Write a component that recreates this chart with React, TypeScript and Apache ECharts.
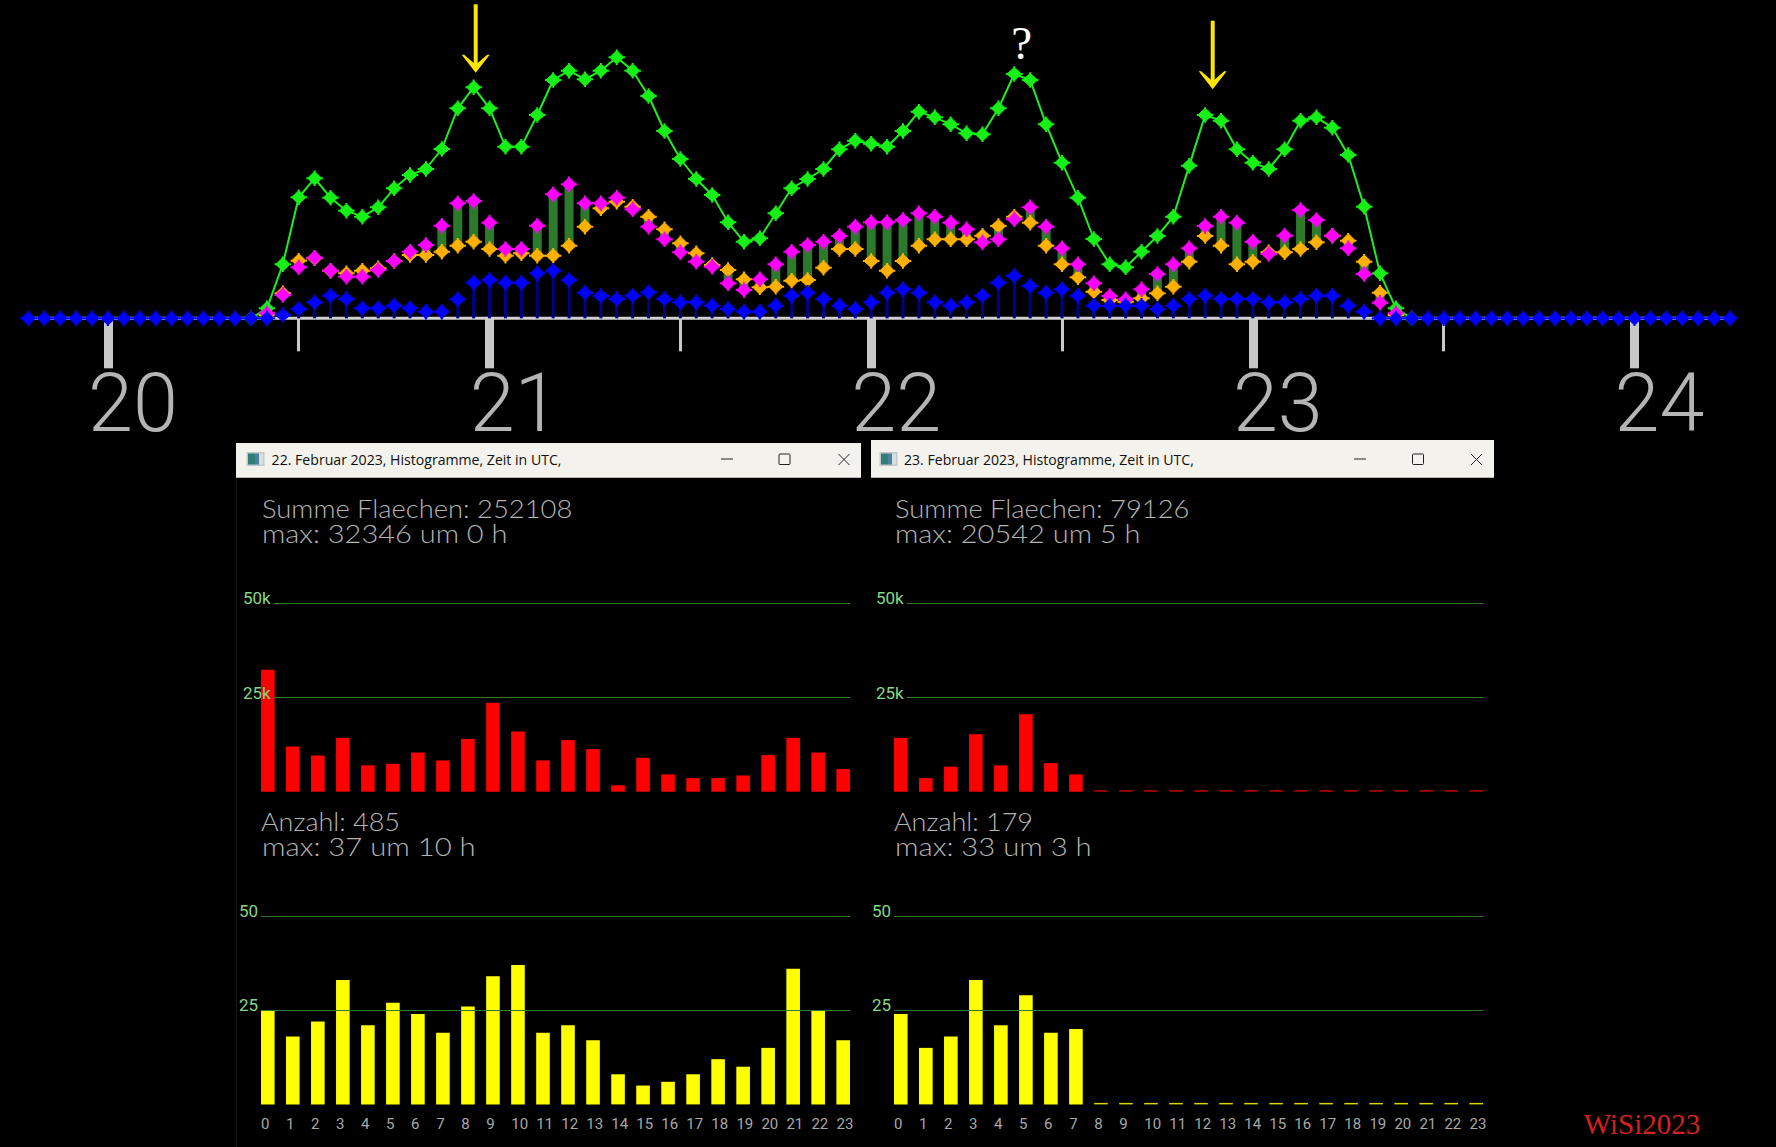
import React, { useEffect, useRef } from "react";
import * as echarts from "echarts";

// --- top strip: hourly heights, hour 0 = 20 Feb 00 UTC ---
const dayTicks = [0, 24, 48, 72, 96];
const dayLabels = ["20", "21", "22", "23", "24"];
const firstHour = -5;
const greenFirst = 9;
const green = [0,30,162,363,420,362,323,305,333,390,430,448,508,630,693,630,515,515,610,715,743,717,743,783,743,667,562,478,418,370,288,230,240,315,390,418,448,507,533,524,515,562,620,603,582,555,552,630,733,715,582,467,362,238,162,153,200,247,305,458,610,593,507,467,448,507,593,603,572,490,335,135,30,0];
const pairFirst = 10;
const magenta = [15,70,153,182,143,125,125,145,172,200,220,278,345,352,287,208,208,278,372,402,345,345,362,327,275,237,198,170,155,105,85,117,162,200,220,230,247,275,288,288,295,315,305,287,267,228,237,297,333,275,210,162,105,67,57,87,133,162,210,277,305,287,230,193,248,325,295,248,210,133,47,15];
const orange = [10,75,173,180,143,135,143,150,172,190,190,200,218,230,208,188,195,188,188,218,275,330,350,335,305,267,225,195,160,145,117,93,95,113,115,152,208,208,172,143,172,218,237,237,237,248,277,305,287,218,162,123,80,55,50,60,75,95,170,247,218,162,170,198,198,208,228,248,233,170,77,10];
const blue = [0,0,0,0,0,0,0,0,0,0,0,0,0,0,0,0,10,28,48,68,58,30,30,38,30,20,20,57,107,115,107,107,135,143,115,77,67,58,68,78,58,48,48,38,28,20,20,38,68,77,58,38,28,48,77,87,77,48,38,48,68,107,127,97,77,87,68,38,38,38,38,28,38,58,68,58,58,58,48,48,58,68,68,38,20,0,0,0,0,0,0,0,0,0,0,0,0,0,0,0,0,0,0,0,0,0,0,0];

// --- histograms ---
const hourLabels = ["0","1","2","3","4","5","6","7","8","9","10","11","12","13","14","15","16","17","18","19","20","21","22","23"];
const areaFeb22 = [32346,12000,9600,14300,7000,7400,10400,8300,14000,23600,16000,8300,13700,11300,1700,9000,4600,3600,3600,4300,9700,14300,10400,6000];
const countFeb22 = [25,18,22,33,21,27,24,19,26,34,37,19,21,17,8,5,6,8,12,10,15,36,25,17];
const areaFeb23 = [14300,3600,6650,15250,7000,20542,7600,4600,400,400,400,400,400,400,400,400,400,400,400,400,400,400,400,400];
const countFeb23 = [24,15,18,33,21,29,19,20,0.4,0.4,0.4,0.4,0.4,0.4,0.4,0.4,0.4,0.4,0.4,0.4,0.4,0.4,0.4,0.4];
const areaAxisLabels: Record<number, string> = { 25000: "25k", 50000: "50k" };
const countAxisLabels: Record<number, string> = { 25: "25", 50: "50" };

const titleFeb22 = "22. Februar 2023, Histogramme, Zeit in UTC,";
const titleFeb23 = "23. Februar 2023, Histogramme, Zeit in UTC,";
const areaTextFeb22 = ["Summe Flaechen: 252108", "max: 32346 um 0 h"];
const areaTextFeb23 = ["Summe Flaechen: 79126", "max: 20542 um 5 h"];
const countTextFeb22 = ["Anzahl: 485", "max: 37 um 10 h"];
const countTextFeb23 = ["Anzahl: 179", "max: 33 um 3 h"];

const DIAMOND = "path://M7,0H9V2H10V3H11V4H12V5H13V6H14V7H16V9H14V10H13V11H12V12H11V13H10V14H9V16H7V14H6V13H5V12H4V11H3V10H2V9H0V7H2V6H3V5H4V4H5V3H6V2H7Z";
const MARK_SIZE: [number, number] = [16.5, 15.5];
const HERSHEY = "300 25px Lato";

function series3(first: number, vals: number[]) {
  return vals.map((v, i) => [first + i, v]);
}

function buildOption() {
  const grid: any[] = [];
  const xAxis: any[] = [];
  const yAxis: any[] = [];
  const series: any[] = [];
  const graphic: any[] = [];

  // top strip
  const pxPerHour = 15.902;
  grid.push({ outerBoundsMode: "none", left: 107.9 - 24 * pxPerHour, top: 0, width: 144 * pxPerHour, height: 318.33 });
  xAxis.push({
    gridIndex: 0, type: "value", min: -24, max: 120, interval: 24, position: "bottom",
    axisLine: { show: false },
    axisTick: { show: true, length: 50, lineStyle: { color: "#c8c8c8", width: 9 } },
    minorTick: { show: true, splitNumber: 2, length: 33, lineStyle: { color: "#c8c8c8", width: 3 } },
    splitLine: { show: false },
    axisLabel: {
      show: true, margin: 52, color: "#b4b4b4", fontFamily: "Roboto", fontWeight: 300, fontSize: 81,
      lineHeight: 66, verticalAlign: "top", padding: [0, 0, 0, 50],
      formatter: (v: number) => { const i = dayTicks.indexOf(v); return i >= 0 ? dayLabels[i] : ""; },
    },
  });
  yAxis.push({ gridIndex: 0, type: "value", min: 0, max: 955, show: false });

  series.push({
    type: "line", xAxisIndex: 0, yAxisIndex: 0, z: 1, clip: false, symbol: "none", silent: true,
    lineStyle: { color: "#d0d0d0", width: 3 }, data: [[firstHour, 0], [firstHour + blue.length - 1, 0]],
  });
  series.push({
    type: "line", xAxisIndex: 0, yAxisIndex: 0, z: 3, clip: false, symbol: DIAMOND, symbolSize: MARK_SIZE,
    showAllSymbol: true, itemStyle: { color: "#16f016", opacity: 1 }, lineStyle: { color: "#1eee1e", width: 2 },
    data: series3(greenFirst, green),
  });
  series.push({
    type: "custom", xAxisIndex: 0, yAxisIndex: 0, z: 4, clip: false,
    encode: { x: 0, y: [1, 2] },
    data: magenta.map((m, i) => [pairFirst + i, m, orange[i]]),
    renderItem: (_p: any, api: any) => {
      const a = api.coord([api.value(0), api.value(1)]);
      const b = api.coord([api.value(0), api.value(2)]);
      return { type: "rect", shape: { x: a[0] - 4.5, y: Math.min(a[1], b[1]), width: 9, height: Math.abs(a[1] - b[1]) }, style: { fill: "#2b7b2b" } };
    },
  });
  series.push({
    type: "scatter", xAxisIndex: 0, yAxisIndex: 0, z: 5, clip: false, symbol: DIAMOND, symbolSize: MARK_SIZE,
    itemStyle: { color: "#ffb000", opacity: 1 }, data: series3(pairFirst, orange),
  });
  series.push({
    type: "scatter", xAxisIndex: 0, yAxisIndex: 0, z: 6, clip: false, symbol: DIAMOND, symbolSize: MARK_SIZE,
    itemStyle: { color: "#ff00ff", opacity: 1 }, data: series3(pairFirst, magenta),
  });
  series.push({
    type: "custom", xAxisIndex: 0, yAxisIndex: 0, z: 7, clip: false,
    encode: { x: 0, y: 1 },
    data: series3(firstHour, blue),
    renderItem: (_p: any, api: any) => {
      const a = api.coord([api.value(0), api.value(1)]);
      const b = api.coord([api.value(0), 0]);
      return { type: "line", shape: { x1: a[0], y1: a[1], x2: b[0], y2: b[1] }, style: { stroke: "#00008c", lineWidth: 3 } };
    },
  });
  series.push({
    type: "scatter", xAxisIndex: 0, yAxisIndex: 0, z: 8, clip: false, symbol: DIAMOND, symbolSize: MARK_SIZE,
    itemStyle: { color: "#0000ff", opacity: 1 }, data: series3(firstHour, blue),
  });

  // histograms
  const addBars = (dx: number, base: number, max: number, vals: number[], color: string, dim: string, threshold: number) => {
    const g = grid.length;
    grid.push({ outerBoundsMode: "none", left: 255.3 + dx, width: 600.4, top: base - 188.4, height: 188.4 });
    xAxis.push({ gridIndex: g, type: "category", data: hourLabels, show: false });
    yAxis.push({ gridIndex: g, type: "value", min: 0, max, show: false });
    series.push({
      type: "bar", xAxisIndex: g, yAxisIndex: g, barWidth: 13.6, z: 2,
      data: vals.map((v) => ({ value: v, itemStyle: { color: v <= threshold ? dim : color } })),
    });
  };
  const addGuide = (left: number, right: number, base: number, max: number, labels: Record<number, string>, hours: boolean) => {
    const g = grid.length;
    grid.push({ outerBoundsMode: "none", left, width: right - left, top: base - 188.4, height: 188.4 });
    xAxis.push({
      gridIndex: g, type: "value", min: 0, max: hours ? (right - left) / 25.02 : 1, interval: 1, show: hours,
      axisLine: { show: false }, axisTick: { show: false }, splitLine: { show: false },
      axisLabel: {
        show: hours, margin: 12, color: "#a8a8a8", fontFamily: "Roboto", fontSize: 15, align: "left",
        showMaxLabel: false, formatter: (v: number) => hourLabels[v] ?? "",
      },
    });
    yAxis.push({
      gridIndex: g, type: "value", min: 0, max, interval: max / 2, z: 5,
      axisLine: { show: false }, axisTick: { show: false },
      splitLine: { show: true, showMinLine: false, lineStyle: { color: "#357a2c", width: 1.2 } },
      axisLabel: {
        show: true, margin: 3, color: "#86d886", fontFamily: "Roboto", fontSize: 17, verticalAlign: "bottom", lineHeight: 10,
        formatter: (v: number) => labels[v] ?? "",
      },
    });
  };

  const panel = (dx: number, area: number[], count: number[], areaText: string[], countText: string[]) => {
    addBars(dx, 791.7, 50000, area, "#ff0000", "#c00000", 400);
    addBars(dx, 1104.4, 50, count, "#ffff00", "#d8d800", 0.4);
    addGuide(273.7 + dx, 850.4 + dx, 791.7, 50000, areaAxisLabels, false);
    addGuide(261 + dx, 850.4 + dx, 1104.4, 50, countAxisLabels, true);
    const text = (t: string, x: number, y: number, sx: number) =>
      graphic.push({ type: "text", x, y, scaleX: sx, z: 20, style: { text: t, fill: "#b4b4b4", font: HERSHEY, textAlign: "left", textVerticalAlign: "middle" } });
    text(areaText[0], 262 + dx, 508, 1.095);
    text(areaText[1], 262 + dx, 533, 1.16);
    text(countText[0], 261 + dx, 821, 1.08);
    text(countText[1], 262 + dx, 846, 1.17);
  };
  panel(0, areaFeb22, countFeb22, areaTextFeb22, countTextFeb22);
  panel(633, areaFeb23, countFeb23, areaTextFeb23, countTextFeb23);

  // window title bars
  const titleBar = (x0: number, x1: number, y0: number, icon: number, tx: number, title: string, minX: number, maxX: number, closeX: number) => {
    const ink = "#222222";
    graphic.push({ type: "rect", z: 15, shape: { x: x0, y: y0, width: x1 - x0, height: 477.7 - y0 }, style: { fill: "#f3f2ec" } });
    graphic.push({ type: "rect", z: 16, shape: { x: icon, y: 452, width: 18, height: 14 }, style: { fill: "#c4c8ca" } });
    graphic.push({ type: "rect", z: 17, shape: { x: icon + 1.5, y: 453.5, width: 7, height: 11 }, style: { fill: "#2f7f78" } });
    graphic.push({ type: "rect", z: 17, shape: { x: icon + 8.5, y: 453.5, width: 4, height: 11 }, style: { fill: "#4f7fa0" } });
    graphic.push({ type: "rect", z: 17, shape: { x: icon + 12.5, y: 453.5, width: 4, height: 11 }, style: { fill: "#d6e0dc" } });
    graphic.push({ type: "text", x: tx, y: 459, z: 17, style: { text: title, fill: "#111111", font: "14.1px 'Open Sans'", textAlign: "left", textVerticalAlign: "middle" } });
    graphic.push({ type: "line", z: 17, shape: { x1: minX, y1: 459, x2: minX + 12, y2: 459 }, style: { stroke: ink, lineWidth: 1 } });
    graphic.push({ type: "rect", z: 17, shape: { x: maxX, y: 454, width: 11, height: 10.5, r: 1 }, style: { fill: "transparent", stroke: ink, lineWidth: 1 } });
    graphic.push({ type: "line", z: 17, shape: { x1: closeX, y1: 454, x2: closeX + 11, y2: 465 }, style: { stroke: ink, lineWidth: 1 } });
    graphic.push({ type: "line", z: 17, shape: { x1: closeX + 11, y1: 454, x2: closeX, y2: 465 }, style: { stroke: ink, lineWidth: 1 } });
  };
  titleBar(236, 861, 443, 246.5, 271.6, titleFeb22, 721, 779, 838.5);
  titleBar(871, 1494, 440, 879.5, 904, titleFeb23, 1354, 1412.5, 1471);
  graphic.push({ type: "line", z: 1, shape: { x1: 236.5, y1: 478, x2: 236.5, y2: 1147 }, style: { stroke: "#161616", lineWidth: 1 } });

  // annotations
  const arrow = (x: number, top: number, tip: number) => {
    const yellow = "#ffe600";
    graphic.push({ type: "rect", z: 18, shape: { x: x - 2, y: top, width: 4, height: tip - top - 4 }, style: { fill: yellow } });
    graphic.push({ type: "polygon", z: 18, shape: { points: [[x - 14, tip - 18], [x, tip], [x + 14, tip - 18], [x + 11.5, tip - 18], [x, tip - 8], [x - 11.5, tip - 18]] }, style: { fill: yellow } });
  };
  arrow(475.7, 4.3, 72.7);
  arrow(1212.7, 20.7, 89.3);
  graphic.push({ type: "text", x: 1021.7, y: 43, z: 18, style: { text: "?", fill: "#ffffff", font: "47px 'Liberation Serif'", textAlign: "center", textVerticalAlign: "middle" } });
  graphic.push({ type: "text", x: 1642, y: 1124, z: 18, style: { text: "WiSi2023", fill: "#d42020", font: "29px 'Liberation Serif'", textAlign: "center", textVerticalAlign: "middle" } });

  return { animation: false, backgroundColor: "#000000", grid, xAxis, yAxis, series, graphic, tooltip: { show: false } };
}

export default function App() {
  const ref = useRef<HTMLDivElement>(null);
  useEffect(() => {
    document.body.style.margin = "0";
    document.body.style.background = "#000";
    const chart = echarts.init(ref.current!, undefined, { renderer: "svg" });
    chart.setOption(buildOption() as any);
    return () => chart.dispose();
  }, []);
  return <div ref={ref} style={{ width: 1776, height: 1147, background: "#000" }} />;
}
